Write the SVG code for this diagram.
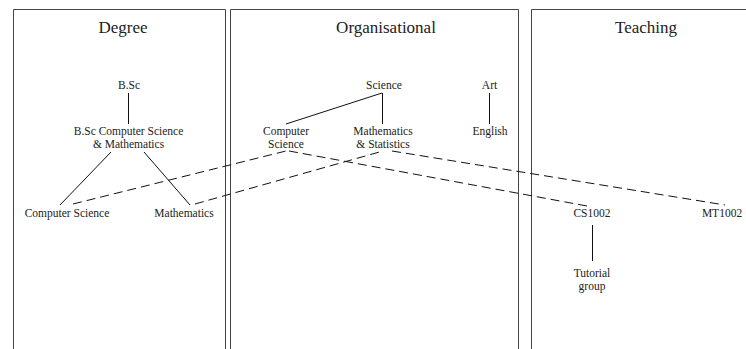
<svg xmlns="http://www.w3.org/2000/svg" width="746" height="349" viewBox="0 0 746 349">
<style>
.panel{fill:none;stroke:#444;stroke-width:1}
.title{font-family:"Liberation Serif",serif;font-size:17px;fill:#222;text-anchor:middle}
.lbl{font-family:"Liberation Serif",serif;font-size:11.5px;fill:#222;text-anchor:middle}
.edge{stroke:#111;stroke-width:1;fill:none}
.dash{stroke:#111;stroke-width:1;fill:none;stroke-dasharray:9 5}
</style>
<rect width="746" height="349" fill="#fff"/>
<g id="panel-degree">
<path class="panel" d="M13.5,360 V9.5 H225.5 V360"/>
<text class="title" x="123" y="33">Degree</text>
</g>
<g id="panel-organisational">
<path class="panel" d="M230.5,360 V9.5 H518.5 V360"/>
<text class="title" x="386" y="33">Organisational</text>
</g>
<g id="panel-teaching">
<path class="panel" d="M531.5,360 V9.5 H760"/>
<text class="title" x="646" y="33">Teaching</text>
</g>
<g id="connectors">
<line class="edge" x1="128.5" y1="93" x2="128.5" y2="124"/>
<line class="edge" x1="111" y1="152" x2="60" y2="205"/>
<line class="edge" x1="144" y1="152" x2="190" y2="205"/>
<line class="edge" x1="382" y1="93" x2="286" y2="124"/>
<line class="edge" x1="382.5" y1="93" x2="382.5" y2="124"/>
<line class="edge" x1="489.5" y1="93" x2="489.5" y2="124"/>
<line class="edge" x1="592.5" y1="225" x2="592.5" y2="261"/>
<line class="dash" x1="73" y1="204" x2="286" y2="151"/>
<line class="dash" x1="195" y1="204" x2="383" y2="151"/>
<line class="dash" x1="289" y1="151" x2="587" y2="206"/>
<line class="dash" x1="392" y1="151" x2="725" y2="205"/>
</g>
<g id="node-bsc"><text class="lbl" x="129" y="89">B.Sc</text></g>
<g id="node-bsc-csmath"><text class="lbl" x="128.5" y="135">B.Sc Computer Science</text><text class="lbl" x="128.5" y="148">&amp; Mathematics</text></g>
<g id="node-deg-cs"><text class="lbl" x="67" y="217">Computer Science</text></g>
<g id="node-deg-math"><text class="lbl" x="184" y="217">Mathematics</text></g>
<g id="node-science"><text class="lbl" x="384" y="89">Science</text></g>
<g id="node-art"><text class="lbl" x="489.5" y="89">Art</text></g>
<g id="node-org-cs"><text class="lbl" x="286" y="135">Computer</text><text class="lbl" x="286" y="148">Science</text></g>
<g id="node-org-mathstat"><text class="lbl" x="383" y="135">Mathematics</text><text class="lbl" x="383" y="148">&amp; Statistics</text></g>
<g id="node-english"><text class="lbl" x="490" y="135">English</text></g>
<g id="node-cs1002"><text class="lbl" x="592" y="217">CS1002</text></g>
<g id="node-mt1002"><text class="lbl" x="722" y="217">MT1002</text></g>
<g id="node-tutorial"><text class="lbl" x="592" y="277">Tutorial</text><text class="lbl" x="592" y="290">group</text></g>
</svg>
